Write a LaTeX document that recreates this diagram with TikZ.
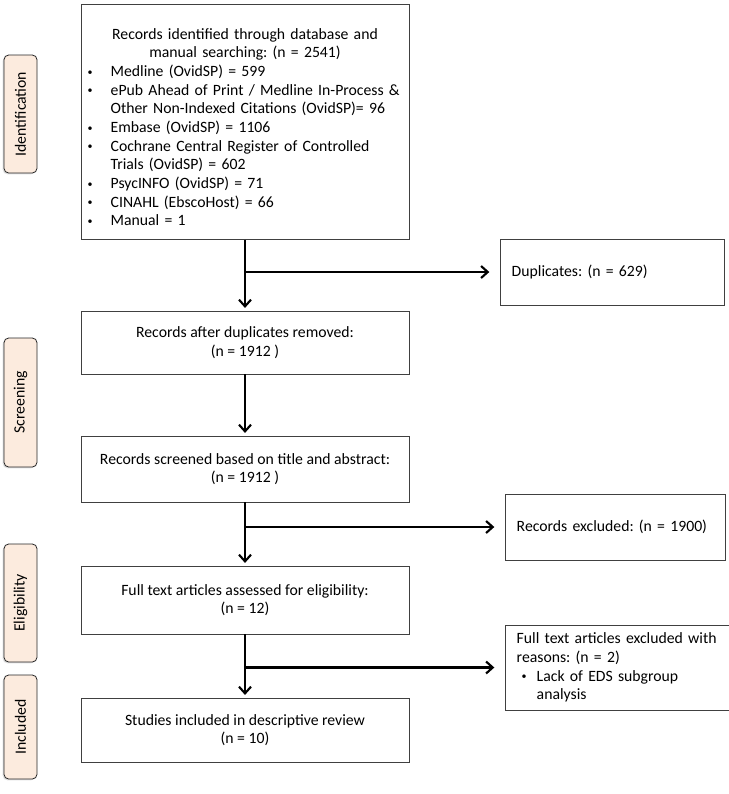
\documentclass[tikz,border=0pt]{standalone}
\usepackage{fontspec}
\setmainfont{Carlito}
\usetikzlibrary{arrows.meta,shadows}
\definecolor{phasefill}{RGB}{252,235,222}
\newcommand{\dotmark}{\raisebox{1.1pt}{\fontsize{7.5}{7.5}\selectfont\textbullet}}
\newcommand{\bul}{\makebox[17.25pt][l]{\dotmark}}
\newcommand{\bulskip}{\hspace*{17.25pt}}
\frenchspacing

\begin{document}
\begin{tikzpicture}[x=0.75pt, y=-0.75pt,
                    font=\fontsize{11.8}{14}\selectfont,
                    box/.style={draw=black!75, line width=0.6pt, inner sep=0pt},
                    mainbox/.style={box, minimum width=246pt, align=center},
                    outbox/.style={box, anchor=west, inner xsep=8.5pt, align=left},
                    phase/.style={draw=black!85, fill=phasefill, rounded corners=3.5pt,
                                  line width=0.6pt, rotate=90, inner sep=0pt,
                                  minimum height=24.75pt,
                                  drop shadow={shadow xshift=-1pt, shadow yshift=-1pt, opacity=0.25}},
                    flow/.style={line width=1.6pt, -{Straight Barb[length=5pt,width=9pt]}, shorten >=2pt},
                    branch/.style={flow, shorten >=8pt}]
                \useasboundingbox (0,0) rectangle (729,794);

                % phase labels
                \node (idphase) [phase, minimum width=88.5pt] at (20.5,114) {Identification};
                \node (scphase) [phase, minimum width=96.75pt] at (20.5,402.5) {Screening};
                \node (elphase) [phase, minimum width=88.5pt] at (20.5,603) {Eligibility};
                \node (inphase) [phase, minimum width=78pt] at (20.5,727) {Included};

                % main column
                \node (ids) [mainbox, text width=236pt, align=left, minimum height=176pt] at (245,122) {%
                    {\centering\rule{0pt}{16pt}Records identified through database and\\
                    manual searching: (n = 2541)\par}
                    \bul Medline (OvidSP) = 599\\
                    \bul ePub Ahead of Print / Medline In-Process \&\\
                    \bulskip Other Non-Indexed Citations (OvidSP)= 96\\
                    \bul Embase (OvidSP) = 1106\\
                    \bul Cochrane Central Register of Controlled\\
                    \bulskip Trials (OvidSP) = 602\\
                    \bul PsycINFO (OvidSP) = 71\\
                    \bul CINAHL (EbscoHost) = 66\\
                    \bul Manual = 1};
                \node (dedup) [mainbox, minimum height=47.25pt] at (245,342.5)
                    {Records after duplicates removed:\\(n = 1912 )};
                \node (screen) [mainbox, minimum height=49.5pt] at (245,469)
                    {Records screened based on title and abstract:\\(n = 1912 )};
                \node (fulltext) [mainbox, minimum height=51pt] at (245,600)
                    {Full text articles assessed for eligibility:\\(n = 12)};
                \node (incl) [mainbox, minimum height=48pt] at (245,730)
                    {Studies included in descriptive review\\(n = 10)};

                % exclusion column
                \node (dups) [outbox, text width=151pt, minimum height=49.5pt] at (500,272)
                    {Duplicates: (n = 629)};
                \node (excl) [outbox, text width=148pt, minimum height=49.5pt] at (505,527)
                    {Records excluded: (n = 1900)};
                \node (reasons) [outbox, text width=151pt, minimum height=63.75pt] at (505,667.5)
                    {Full text articles excluded with\\
                    reasons: (n = 2)\\
                    \hspace*{3.75pt}\makebox[11.25pt][l]{\dotmark}Lack of EDS subgroup\\
                    \hspace*{15pt}analysis};

                \draw [flow] (ids) -- (dedup);
                \draw [branch] (ids.south |- dups.west) -- (dups.west);
                \draw [flow] (dedup) -- (screen);
                \draw [flow] (screen) -- (fulltext);
                \draw [branch] (screen.south |- excl.west) -- (excl.west);
                \draw [flow] (fulltext) -- (incl);
                \draw [branch] (fulltext.south |- reasons.west) -- (reasons.west);
            \end{tikzpicture}
\end{document}
